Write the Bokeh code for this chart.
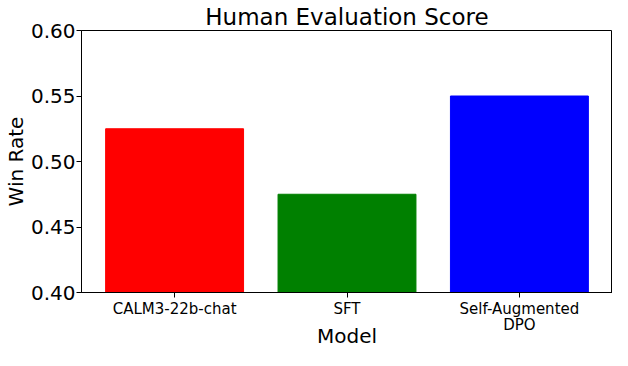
from bokeh.plotting import figure
from bokeh.models import ColumnDataSource, FixedTicker, Range1d, NumeralTickFormatter
from bokeh.embed import file_html
from bokeh.resources import INLINE

models = ["CALM3-22b-chat", "SFT", "Self-Augmented\nDPO"]
win_rates = [0.525, 0.475, 0.55]
colors = ["red", "green", "blue"]
y_ticks = [0.40, 0.45, 0.50, 0.55, 0.60]

xs = list(range(len(models)))
src = ColumnDataSource(dict(x=xs, top=win_rates, color=colors))

FONT = "DejaVu Sans"
p = figure(width=612, height=350, output_backend="svg", toolbar_location=None,
           x_range=Range1d(-0.54, len(models) - 1 + 0.54), y_range=Range1d(0.40, 0.60),
           min_border_left=72, min_border_right=0, min_border_bottom=0, min_border_top=23)

p.vbar(x="x", top="top", bottom=0.40, width=0.8, color="color", source=src)

p.title.text = "Human Evaluation Score"
p.title.align = "center"
p.title.text_font = FONT
p.title.text_font_size = "23px"
p.title.text_font_style = "normal"
p.title.text_color = "black"
p.title.offset = 0
p.title.standoff = 2

p.xgrid.visible = False
p.ygrid.visible = False
p.outline_line_color = "black"
p.outline_line_width = 1

p.xaxis.ticker = FixedTicker(ticks=xs)
p.xaxis.major_label_overrides = {i: m for i, m in enumerate(models)}
p.yaxis.ticker = FixedTicker(ticks=y_ticks)
p.yaxis.formatter = NumeralTickFormatter(format="0.00")

for ax in (p.xaxis[0], p.yaxis[0]):
    ax.minor_tick_line_color = None
    ax.major_tick_in = 0
    ax.major_tick_out = 5
    ax.axis_line_color = "black"
    ax.major_tick_line_color = "black"
    ax.major_label_text_font = FONT
    ax.axis_label_text_font = FONT
    ax.axis_label_text_font_style = "normal"
    ax.axis_label_text_font_size = "20px"
    ax.axis_label_text_color = "black"
    ax.major_label_text_color = "black"

p.xaxis.major_label_standoff = 2
p.xaxis.axis_label_standoff = -13
p.xaxis.major_label_text_font_size = "15px"
p.xaxis.major_label_text_line_height = 0.9
p.xaxis.axis_label = "Model"

p.yaxis.major_label_standoff = 1
p.yaxis.axis_label_standoff = 0
p.yaxis.major_label_text_font_size = "20px"
p.yaxis.axis_label = "Win Rate"

open("out.html", "w").write(file_html(p, INLINE))
